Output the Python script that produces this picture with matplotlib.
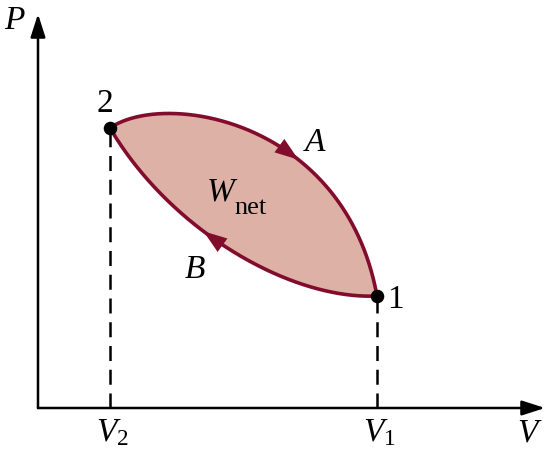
import numpy as np
import matplotlib
matplotlib.use("Agg")
import matplotlib.pyplot as plt
from matplotlib.patches import FancyArrowPatch

plt.rcParams["mathtext.fontset"] = "custom"
plt.rcParams["mathtext.rm"] = "Liberation Serif"
plt.rcParams["mathtext.it"] = "Liberation Serif:italic"
plt.rcParams["font.family"] = ["Liberation Serif", "DejaVu Serif"]

# state points (V, P) in drawing units, origin at the axes corner
state_labels = ["1", "2"]
state_v = [339.0, 72.0]
state_p = [112.0, 280.0]
volume_ticks = [r"$V_1$", r"$V_2$"]

# Bezier control points of process A (2 -> 1) and process B (1 -> 2)
path_a_v = [72.0, 127.0, 307.0, 339.0]
path_a_p = [280.0, 318.0, 288.0, 112.0]
path_b_v = [339.0, 252.0, 132.0, 72.0]
path_b_p = [112.0, 108.0, 178.0, 280.0]

# where the direction arrows sit on each path
arrow_a_tip = (257.0, 244.0)
arrow_b_tip = (161.0, 171.0)

axis_v_max = 507.0
axis_p_max = 394.0

LINE = "#820C2C"
FILL = "#DEB1A6"


def bezier(cv, cp, t):
    t = np.asarray(t)[:, None]
    c = np.column_stack([cv, cp])
    pts = ((1 - t) ** 3) * c[0] + 3 * ((1 - t) ** 2) * t * c[1] \
        + 3 * (1 - t) * t**2 * c[2] + t**3 * c[3]
    return pts


def direction_arrow(ax, cv, cp, tip):
    t = np.linspace(0, 1, 801)
    pts = bezier(cv, cp, t)
    i = int(np.argmin(np.hypot(pts[:, 0] - tip[0], pts[:, 1] - tip[1])))
    i = max(i, 30)
    arr = FancyArrowPatch(pts[i - 30], pts[i], arrowstyle="-|>,head_length=17,head_width=6",
                          mutation_scale=1, color=LINE, lw=0, shrinkA=0, shrinkB=0, zorder=5)
    ax.add_patch(arr)


fig = plt.figure(figsize=(5.47, 4.63), dpi=100)
ax = fig.add_axes([0, 0, 1, 1])
ax.set_xlim(-38, 509)
ax.set_ylim(-55, 408)
ax.axis("off")

t = np.linspace(0, 1, 400)
curve_a = bezier(path_a_v, path_a_p, t)
curve_b = bezier(path_b_v, path_b_p, t)
loop = np.vstack([curve_a, curve_b])
ax.fill(loop[:, 0], loop[:, 1], color=FILL, lw=0, zorder=1)
ax.plot(curve_a[:, 0], curve_a[:, 1], color=LINE, lw=2.6, zorder=3)
ax.plot(curve_b[:, 0], curve_b[:, 1], color=LINE, lw=2.6, zorder=3)
direction_arrow(ax, path_a_v, path_a_p, arrow_a_tip)
direction_arrow(ax, path_b_v, path_b_p, arrow_b_tip)

# axes with arrowheads
for end in [(axis_v_max, 0.0), (0.0, axis_p_max)]:
    ax.add_patch(FancyArrowPatch((0, 0), end, arrowstyle="-|>,head_length=14,head_width=4.5",
                                 mutation_scale=1, color="black", lw=1.8,
                                 shrinkA=0, shrinkB=0, zorder=4))

# dashed drop lines and state points
for v, p in zip(state_v, state_p):
    ax.plot([v, v], [0, p], color="black", lw=1.8, ls=(0, (6, 3.5)), zorder=2)
ax.scatter(state_v, state_p, s=95, color="black", zorder=6, lw=0)

fs = 24
ax.text(state_v[0] + 18, state_p[0] - 4, state_labels[0], fontsize=fs, ha="center", va="center")
ax.text(state_v[1] - 5, state_p[1] + 24, state_labels[1], fontsize=fs, ha="center", va="center")
for v, lab in zip(state_v, volume_ticks):
    ax.text(v + 2, -25, lab, fontsize=fs, ha="center", va="center")
ax.text(492, -25, r"$V$", fontsize=fs, ha="center", va="center")
ax.text(-23, 387, r"$P$", fontsize=fs, ha="center", va="center")
ax.text(277, 265, r"$A$", fontsize=fs, ha="center", va="center")
ax.text(157, 138, r"$B$", fontsize=fs, ha="center", va="center")
ax.text(184, 216, r"$W$", fontsize=fs, ha="center", va="center")
ax.text(213, 200, "net", fontsize=19, ha="center", va="center")

fig.savefig("out.png", dpi=100)
